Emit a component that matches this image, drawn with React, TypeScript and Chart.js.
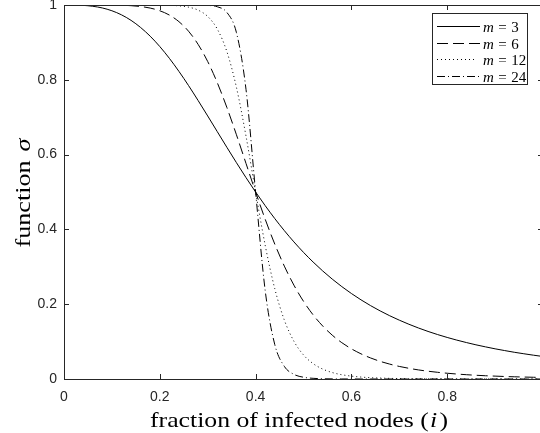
import React, { useEffect, useRef } from "react";
import { Chart, registerables } from "chart.js";

Chart.register(...registerables);

// fraction of infected nodes (i)
const xValues = [
  0, 0.02, 0.04, 0.06, 0.08, 0.1, 0.12, 0.14, 0.16, 0.18,
  0.2, 0.22, 0.24, 0.26, 0.28, 0.3, 0.32, 0.34, 0.36, 0.38,
  0.4, 0.42, 0.44, 0.46, 0.48, 0.5, 0.52, 0.54, 0.56, 0.58,
  0.6, 0.62, 0.64, 0.66, 0.68, 0.7, 0.72, 0.74, 0.76, 0.78,
  0.8, 0.82, 0.84, 0.86, 0.88, 0.9, 0.92, 0.94, 0.96, 0.98, 1.0,
];

const sigmaM3 = [
  1.0, 0.9999, 0.999, 0.9966, 0.9921, 0.9846, 0.9737, 0.9589, 0.9398, 0.9165,
  0.8889, 0.8574, 0.8224, 0.7846, 0.7446, 0.7033, 0.6614, 0.6195, 0.5784, 0.5384,
  0.5, 0.4635, 0.429, 0.3967, 0.3666, 0.3386, 0.3128, 0.289, 0.2671, 0.247,
  0.2286, 0.2117, 0.1962, 0.1821, 0.1691, 0.1573, 0.1464, 0.1364, 0.1272, 0.1188,
  0.1111, 0.104, 0.0975, 0.0914, 0.0859, 0.0807, 0.076, 0.0715, 0.0675, 0.0637, 0.0602,
];

const sigmaM6 = [
  1, 1, 1, 1, 0.9999, 0.9998, 0.9993, 0.9982, 0.9959, 0.9918,
  0.9846, 0.9731, 0.9554, 0.9299, 0.8947, 0.8489, 0.7923, 0.7261, 0.653, 0.5763,
  0.5, 0.4273, 0.3608, 0.3018, 0.2509, 0.2077, 0.1716, 0.1418, 0.1172, 0.0971,
  0.0807, 0.0673, 0.0563, 0.0472, 0.0398, 0.0336, 0.0286, 0.0243, 0.0208, 0.0179,
  0.0154, 0.0133, 0.0115, 0.01, 0.0087, 0.0077, 0.0067, 0.0059, 0.0052, 0.0046, 0.0041,
];

const sigmaM12 = [
  1, 1, 1, 1, 1, 1, 1, 1, 1, 0.9999,
  0.9998, 0.9992, 0.9978, 0.9943, 0.9863, 0.9693, 0.9357, 0.8755, 0.7798, 0.6492,
  0.5, 0.3577, 0.2416, 0.1575, 0.1009, 0.0643, 0.0412, 0.0266, 0.0173, 0.0114,
  0.0077, 0.0052, 0.0035, 0.0025, 0.0017, 0.0012, 0.0009, 0.0006, 0.0005, 0.0003,
  0.0002, 0.0002, 0.0001, 0.0001, 0.0001, 0.0001, 0, 0, 0, 0, 0,
];

const sigmaM24 = [
  1, 1, 1, 1, 1, 1, 1, 1, 1, 1,
  1, 1, 1, 1, 0.9998, 0.999, 0.9953, 0.9802, 0.9261, 0.774,
  0.5, 0.2367, 0.0922, 0.0338, 0.0124, 0.0047, 0.0018, 0.0007, 0.0003, 0.0001,
  0.0001, 0, 0, 0, 0, 0, 0, 0, 0, 0,
  0, 0, 0, 0, 0, 0, 0, 0, 0, 0, 0,
];

const mLabels = ["3", "6", "12", "24"];
const seriesValues = [sigmaM3, sigmaM6, sigmaM12, sigmaM24];
const seriesDashes: number[][] = [[], [11, 5], [1, 3], [8, 3, 1, 3]];

const AXIS = "#262626";
const SERIF = "'Liberation Serif', 'DejaVu Serif', serif";
const SANS = "'Liberation Sans', Arial, Helvetica, sans-serif";

type Part = { t: string; it?: boolean; gap?: number };

function drawRich(
  ctx: CanvasRenderingContext2D,
  parts: Part[],
  size: number,
  targetWidth: number | null,
  x: number,
  y: number,
  align: "center" | "left"
) {
  const fontOf = (p: Part) => `${p.it ? "italic " : ""}${size}px ${SERIF}`;
  let total = 0;
  parts.forEach((p) => {
    ctx.font = fontOf(p);
    total += ctx.measureText(p.t).width + (p.gap || 0);
  });
  const sx = targetWidth ? targetWidth / total : 1;
  const w = total * sx;
  ctx.save();
  ctx.translate(align === "center" ? x - w / 2 : x, y);
  ctx.scale(sx, 1);
  ctx.textBaseline = "alphabetic";
  ctx.textAlign = "left";
  let cx = 0;
  parts.forEach((p) => {
    ctx.font = fontOf(p);
    ctx.fillText(p.t, cx, 0);
    cx += ctx.measureText(p.t).width + (p.gap || 0);
  });
  ctx.restore();
}

const fmtTick = (v: any) => String(Number(Number(v).toFixed(1)));

const decorations = {
  id: "decorations",
  afterDraw(chart: any) {
    const { ctx, chartArea: a, scales } = chart;
    const xs = scales.x;
    const ys = scales.y;
    ctx.save();
    ctx.strokeStyle = AXIS;
    ctx.fillStyle = AXIS;
    ctx.lineWidth = 1;
    ctx.setLineDash([]);
    // top & right box lines
    ctx.beginPath();
    ctx.moveTo(a.left, Math.round(a.top) + 0.5);
    ctx.lineTo(a.right, Math.round(a.top) + 0.5);
    ctx.moveTo(Math.round(a.right) - 0.5, a.top);
    ctx.lineTo(Math.round(a.right) - 0.5, a.bottom);
    ctx.stroke();
    // inward ticks
    const TL = 5;
    ctx.beginPath();
    xs.ticks.forEach((t: any) => {
      const px = Math.round(xs.getPixelForValue(t.value)) + 0.5;
      ctx.moveTo(px, a.bottom);
      ctx.lineTo(px, a.bottom - TL);
      ctx.moveTo(px, a.top);
      ctx.lineTo(px, a.top + TL);
    });
    ys.ticks.forEach((t: any) => {
      const py = Math.round(ys.getPixelForValue(t.value)) + 0.5;
      ctx.moveTo(a.left, py);
      ctx.lineTo(a.left + TL, py);
      ctx.moveTo(a.right, py);
      ctx.lineTo(a.right - TL, py);
    });
    ctx.stroke();

    // axis titles
    ctx.fillStyle = "#000";
    drawRich(
      ctx,
      [{ t: "fraction of infected nodes (", gap: 1 }, { t: "i", it: true, gap: 2 }, { t: ")" }],
      22,
      298,
      299,
      427,
      "center"
    );
    ctx.save();
    ctx.translate(30, 193);
    ctx.rotate(-Math.PI / 2);
    drawRich(ctx, [{ t: "function ", gap: 2 }, { t: "σ", it: true }], 22, 109, 0, 0, "center");
    ctx.restore();

    // legend
    const bx = 432.5, by = 13.5, bw = 95, bh = 71;
    ctx.fillStyle = "#fff";
    ctx.fillRect(bx, by, bw, bh);
    ctx.strokeStyle = AXIS;
    ctx.setLineDash([]);
    ctx.strokeRect(bx, by, bw, bh);
    const rows = [26, 42.5, 59, 76];
    chart.data.datasets.forEach((ds: any, i: number) => {
      const y = Math.round(rows[i]) + 0.5;
      ctx.strokeStyle = "#000";
      ctx.lineWidth = 1;
      ctx.setLineDash(ds.borderDash || []);
      ctx.beginPath();
      ctx.moveTo(437, y);
      ctx.lineTo(i === 2 ? 476 : 480, y);
      ctx.stroke();
      ctx.setLineDash([]);
      ctx.fillStyle = "#000";
      drawRich(
        ctx,
        [{ t: "m", it: true, gap: 4.5 }, { t: "=", gap: 4.5 }, { t: mLabels[i] }],
        15,
        null,
        483,
        y + 5,
        "left"
      );
    });
    ctx.restore();
  },
};

export default function App() {
  const ref = useRef<HTMLCanvasElement | null>(null);
  useEffect(() => {
    if (!ref.current) return;
    const datasets = seriesValues.map((vals, i) => ({
      label: "m = " + mLabels[i],
      data: xValues.map((x, j) => ({ x, y: vals[j] })),
      borderColor: "#000",
      borderWidth: 1,
      borderDash: seriesDashes[i],
      pointRadius: 0,
      fill: false,
      cubicInterpolationMode: "monotone" as const,
    }));
    const chart = new Chart(ref.current, {
      type: "line",
      data: { datasets },
      options: {
        responsive: false,
        animation: false,
        devicePixelRatio: 1,
        layout: { padding: { left: 0, right: 10, top: 5, bottom: 0 } },
        plugins: { legend: { display: false }, tooltip: { enabled: false } },
        scales: {
          x: {
            type: "linear",
            min: 0,
            max: 1,
            ticks: {
              stepSize: 0.2,
              padding: 10,
              color: AXIS,
              font: { family: SANS, size: 14 },
              maxRotation: 0,
              callback: fmtTick,
            },
            grid: { display: false, drawTicks: false },
            border: { display: true, color: AXIS, width: 1 },
            afterFit: (s: any) => {
              s.height = 54;
              s.paddingLeft = 0;
              s.paddingRight = 0;
            },
          },
          y: {
            type: "linear",
            min: 0,
            max: 1,
            ticks: {
              stepSize: 0.2,
              padding: 7,
              color: AXIS,
              font: { family: SANS, size: 14 },
              callback: fmtTick,
            },
            grid: { display: false, drawTicks: false },
            border: { display: true, color: AXIS, width: 1 },
            afterFit: (s: any) => {
              s.width = 64;
              s.paddingTop = 0;
              s.paddingBottom = 0;
            },
          },
        },
      },
      plugins: [decorations],
    });
    return () => chart.destroy();
  }, []);
  return (
    <div
      style={{
        position: "fixed",
        left: 0,
        top: 0,
        width: 540,
        height: 433,
        overflow: "hidden",
        background: "#fff",
      }}
    >
      <canvas ref={ref} width={553} height={433} style={{ display: "block" }} />
    </div>
  );
}
